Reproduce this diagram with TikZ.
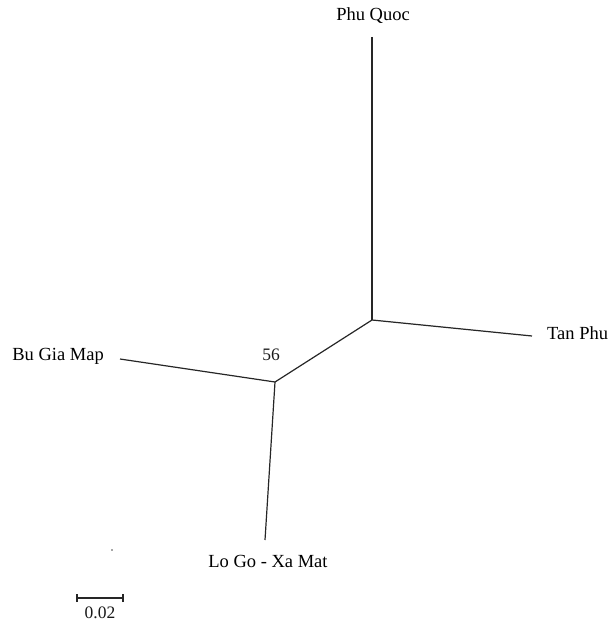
\documentclass[tikz,border=0pt]{standalone}
\usepackage{fontspec}
\setmainfont{Liberation Serif}
\begin{document}
\begin{tikzpicture}[x=1pt,y=-1pt,
  branch/.style={draw=black!85,line width=1.2pt},
  leaf/.style={font=\fontsize{18.5}{21}\selectfont,inner sep=0pt,text=black},
  lab/.style={font=\fontsize{17.5}{20}\selectfont,inner sep=0pt,text=black!90}]
\useasboundingbox (0,0) rectangle (612,623);
% internal nodes
\coordinate (A) at (372,320);
\coordinate (B) at (275,382);
% leaf ends
\coordinate (pq) at (372,37);
\coordinate (tp) at (532,336);
\coordinate (bg) at (120,359);
\coordinate (lg) at (265,540);
% branches
\draw[branch] (pq) -- (A);
\draw[branch] (A) -- (tp);
\draw[branch] (A) -- (B);
\draw[branch] (B) -- (bg);
\draw[branch] (B) -- (lg);
% labels
\node[leaf] (tPQ) at (373,16) {Phu Quoc};
\node[leaf,anchor=west] (tTP) at (547,333) {Tan Phu};
\node[leaf,anchor=east] (tBG) at (104,356) {Bu Gia Map};
\node[leaf] (tLG) at (268,561) {Lo Go - Xa Mat};
\node[lab] (t56) at (271,355) {56};
% stray dot
\fill[black!70] (112,550) circle (0.8pt);
% scale bar
\coordinate (s1) at (77,598);
\coordinate (s2) at (123,598);
\draw[branch] (s1) -- (s2);
\draw[branch] ([yshift=-4pt]s1) -- ([yshift=4pt]s1);
\draw[branch] ([yshift=-4pt]s2) -- ([yshift=4pt]s2);
\node[lab] (tsc) at (100,613) {0.02};
\end{tikzpicture}
\end{document}
